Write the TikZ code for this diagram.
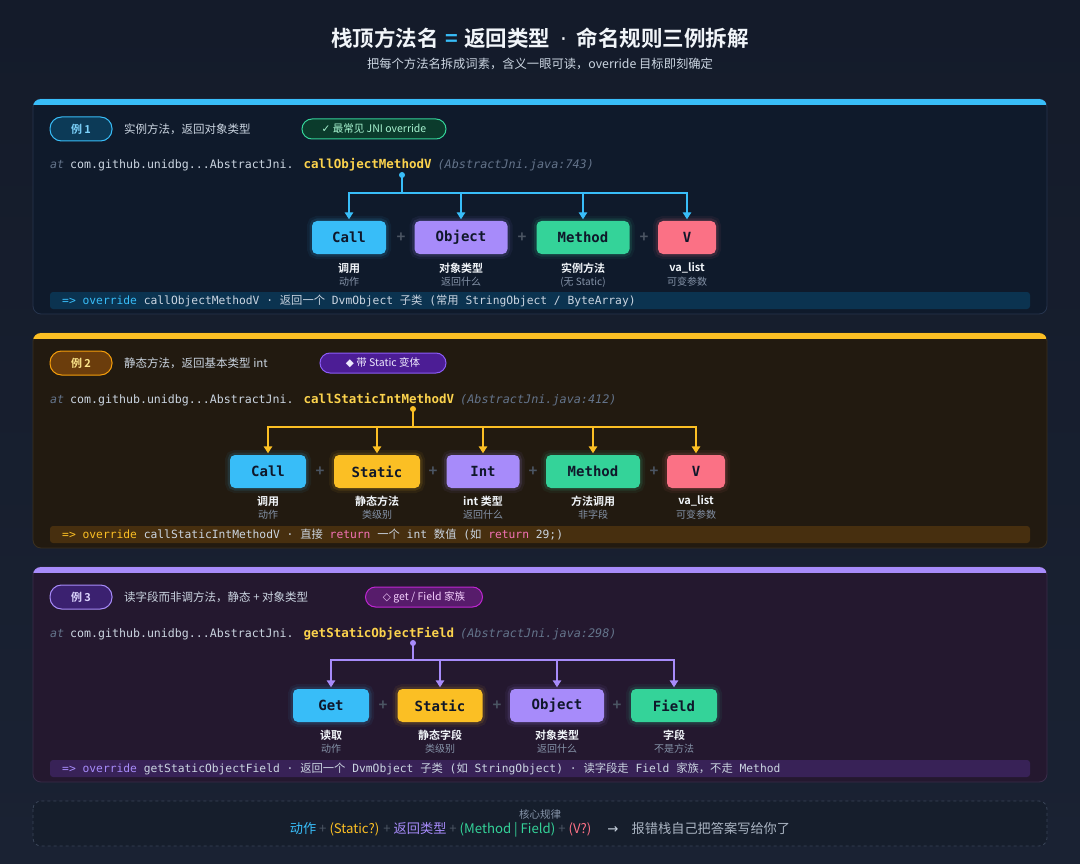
\documentclass[tikz,border=0pt]{standalone}
\usepackage{fontspec}
\setmainfont{Noto Sans CJK SC}[BoldFont={Noto Sans CJK SC Bold}]
\newfontfamily\cjk{Noto Sans CJK SC}[BoldFont={Noto Sans CJK SC Bold}]
\newfontfamily\symf{DejaVu Sans}
\setmonofont{DejaVu Sans Mono}
\usetikzlibrary{arrows.meta}
\newcommand\fsz[1]{\fontsize{#1}{#1}\selectfont}
\definecolor{bg}{HTML}{141B2A}
\definecolor{bgb}{HTML}{1A2233}
\definecolor{pA}{HTML}{0F1A2B}
\definecolor{pB}{HTML}{221A10}
\definecolor{pC}{HTML}{24182F}
\definecolor{brA}{HTML}{26344D}
\definecolor{brB}{HTML}{3A3020}
\definecolor{brC}{HTML}{3A2D4A}
\definecolor{cblue}{HTML}{38BDF8}
\definecolor{cyel}{HTML}{FBBF24}
\definecolor{cpur}{HTML}{A78BFA}
\definecolor{cgrn}{HTML}{34D399}
\definecolor{cred}{HTML}{FB7185}
\definecolor{cpink}{HTML}{F472B6}
\definecolor{boxtxt}{HTML}{0F172A}
\definecolor{txt}{HTML}{CBD5E1}
\definecolor{white2}{HTML}{F1F5F9}
\definecolor{mut}{HTML}{64748B}
\definecolor{sub}{HTML}{8593A8}
\definecolor{plus}{HTML}{4B5563}
\definecolor{mname}{HTML}{FCD34D}
\definecolor{ovA}{HTML}{0B3350}
\definecolor{ovB}{HTML}{472F0F}
\definecolor{ovC}{HTML}{382257}
\definecolor{foot}{HTML}{161E2C}
\definecolor{footbr}{HTML}{3A4558}
\definecolor{pillAf}{HTML}{0C3A57}
\definecolor{pillAt}{HTML}{7DD3FC}
\definecolor{pillBf}{HTML}{6B3D0C}
\definecolor{pillBd}{HTML}{F59E0B}
\definecolor{pillBt}{HTML}{FDE68A}
\definecolor{pillCf}{HTML}{3B2170}
\definecolor{pillCt}{HTML}{DDD6FE}
\definecolor{bdAf}{HTML}{0B3B2C}
\definecolor{bdAt}{HTML}{A7F3D0}
\definecolor{bdBf}{HTML}{4C1D95}
\definecolor{bdBd}{HTML}{8B5CF6}
\definecolor{bdBt}{HTML}{EDE9FE}
\definecolor{bdCf}{HTML}{571C6B}
\definecolor{bdCd}{HTML}{C026D3}
\definecolor{bdCt}{HTML}{F5D0FE}
\newcommand\stk[2]{\textcolor{mut}{\itshape\fsz{11.6}at} {\fsz{11.6}com.github.unidbg...AbstractJni.}\hspace{4pt} \textcolor{mname}{\bfseries\fsz{12.5}#1} \textcolor{mut}{\itshape\fsz{11.8}(AbstractJni.java:#2)}}
\tikzset{
  part/.style={rounded corners=5pt, minimum height=33pt, inner sep=0pt,
    font=\ttfamily\bfseries\fsz{14}, text=boxtxt, fill=#1,
    preaction={fill=none, draw=#1, line width=10pt, draw opacity=0.06},
    preaction={fill=none, draw=#1, line width=5pt, draw opacity=0.12}},
  conn/.style={draw=#1, line width=1.4pt, shorten >=1.5pt,
    -{Triangle[length=7pt,width=8.5pt]}},
  lab/.style={font=\bfseries\fsz{11}, text=white2, inner sep=0pt},
  sublab/.style={font=\fsz{10}, text=sub, inner sep=0pt},
  plussign/.style={font=\bfseries\fsz{15}, text=plus, inner sep=0pt},
  pill/.style={rounded corners=11.5pt, minimum width=62pt, minimum height=24pt,
    inner sep=0pt, line width=1pt, font=\bfseries\fsz{11}},
  badge/.style={rounded corners=10pt, minimum height=20pt, inner sep=0pt,
    line width=1pt, font=\fsz{10.5}},
  head/.style={anchor=west, inner sep=0pt, font=\fsz{11.5}, text=txt},
  stack/.style={anchor=base west, inner sep=0pt, font=\ttfamily, text=txt},
  ovtext/.style={anchor=west, inner sep=0pt, font=\ttfamily\fsz{11.3}, text=txt},
}
\begin{document}
\begin{tikzpicture}[x=1pt,y=-1pt]
% background
\shade[top color=bg, bottom color=bgb] (0,0) rectangle (1080,864);
\useasboundingbox (0,0) rectangle (1080,864);

% title
\node[inner sep=0pt, font=\bfseries\fsz{21.5}, text=white2] (title) at (540,38)
  {栈顶方法名\hspace{0.3em}\textcolor{cblue}{=}\hspace{0.3em}返回类型\hspace{0.45em}{\symf\mdseries ·}\hspace{0.45em}命名规则三例拆解};
\node[inner sep=0pt, font=\fsz{12.3}, text=txt] (subtitle) at (540,64)
  {把每个方法名拆成词素，含义一眼可读，override 目标即刻确定};

% ================= panel 1 =================
\path[fill=pA, draw=brA, line width=0.8pt, rounded corners=8pt] (33,99) rectangle (1047,314);
\begin{scope}
  \clip[rounded corners=8pt] (33,99) rectangle (1047,314);
  \fill[cblue] (33,99) rectangle (1047,105);
\end{scope}
\node[pill, fill=pillAf, draw=cblue, text=pillAt] (p1) at (81,129) {例 1};
\node[head] (h1) at (124,129) {实例方法，返回对象类型};
\node[badge, minimum width=144pt, fill=bdAf, draw=cgrn, text=bdAt] (bd1) at (374,129)
  {{\symf ✓} 最常见 JNI override};
\node[stack] (s1) at (50,169) {\stk{callObjectMethodV}{743}};
\coordinate (d1) at (402,175);
\coordinate (u1) at (402,193);
\node[part=cblue, minimum width=74pt] (a1) at (349,237.5) {Call};
\node[part=cpur, minimum width=93pt] (a2) at (461,237.5) {Object};
\node[part=cgrn, minimum width=93pt] (a3) at (583,237.5) {Method};
\node[part=cred, minimum width=58pt] (a4) at (687,237.5) {V};
\foreach \n in {a1,a2,a3,a4} \draw[conn=cblue] (d1) -- (u1) -| (\n.north);
\fill[cblue] (d1) circle (3pt);
\node[plussign] (pl11) at (401,238) {+};
\node[plussign] (pl12) at (522,238) {+};
\node[plussign] (pl13) at (644,238) {+};
\node[lab] (l11) at (349,268) {调用};   \node[sublab] (m11) at (349,282) {动作};
\node[lab] (l12) at (461,268) {对象类型}; \node[sublab] (m12) at (461,282) {返回什么};
\node[lab] (l13) at (583,268) {实例方法}; \node[sublab] (m13) at (583,282) {(无 Static)};
\node[lab] (l14) at (687,268) {va\_list}; \node[sublab] (m14) at (687,282) {可变参数};
\path[fill=ovA, rounded corners=3pt] (50,292) rectangle (1030,309);
\node[ovtext] (o1) at (62,300.5)
  {\textcolor{cblue}{=> override} callObjectMethodV · {\cjk 返回一个} DvmObject {\cjk 子类} ({\cjk 常用} StringObject / ByteArray)};

% ================= panel 2 =================
\path[fill=pB, draw=brB, line width=0.8pt, rounded corners=8pt] (33,333) rectangle (1047,548);
\begin{scope}
  \clip[rounded corners=8pt] (33,333) rectangle (1047,548);
  \fill[cyel] (33,333) rectangle (1047,339);
\end{scope}
\node[pill, fill=pillBf, draw=pillBd, text=pillBt] (p2) at (81,363) {例 2};
\node[head] (h2) at (124,363) {静态方法，返回基本类型 int};
\node[badge, minimum width=126pt, fill=bdBf, draw=bdBd, text=bdBt] (bd2) at (383,363)
  {{\symf ◆} 带 Static 变体};
\node[stack] (s2) at (50,403) {\stk{callStaticIntMethodV}{412}};
\coordinate (d2) at (413,409);
\coordinate (u2) at (413,427);
\node[part=cblue, minimum width=76pt] (b1) at (268,471.5) {Call};
\node[part=cyel, minimum width=86pt] (b2) at (377,471.5) {Static};
\node[part=cpur, minimum width=73pt] (b3) at (483,471.5) {Int};
\node[part=cgrn, minimum width=94pt] (b4) at (593,471.5) {Method};
\node[part=cred, minimum width=58pt] (b5) at (696,471.5) {V};
\foreach \n in {b1,b2,b3,b4,b5} \draw[conn=cyel] (d2) -- (u2) -| (\n.north);
\fill[cyel] (d2) circle (3pt);
\node[plussign] (pl21) at (320,472) {+};
\node[plussign] (pl22) at (433,472) {+};
\node[plussign] (pl23) at (533,472) {+};
\node[plussign] (pl24) at (654,472) {+};
\node[lab] (l21) at (268,501) {调用};     \node[sublab] (m21) at (268,515) {动作};
\node[lab] (l22) at (377,501) {静态方法}; \node[sublab] (m22) at (377,515) {类级别};
\node[lab] (l23) at (483,501) {int 类型}; \node[sublab] (m23) at (483,515) {返回什么};
\node[lab] (l24) at (593,501) {方法调用}; \node[sublab] (m24) at (593,515) {非字段};
\node[lab] (l25) at (696,501) {va\_list};  \node[sublab] (m25) at (696,515) {可变参数};
\path[fill=ovB, rounded corners=3pt] (50,526) rectangle (1030,543);
\node[ovtext] (o2) at (62,534.5)
  {\textcolor{cyel}{=> override} callStaticIntMethodV · {\cjk 直接} \textcolor{cpink}{return} {\cjk 一个} int {\cjk 数值} ({\cjk 如} \textcolor{cpink}{return} 29;)};

% ================= panel 3 =================
\path[fill=pC, draw=brC, line width=0.8pt, rounded corners=8pt] (33,567) rectangle (1047,782);
\begin{scope}
  \clip[rounded corners=8pt] (33,567) rectangle (1047,782);
  \fill[cpur] (33,567) rectangle (1047,573);
\end{scope}
\node[pill, fill=pillCf, draw=cpur, text=pillCt] (p3) at (81,597) {例 3};
\node[head] (h3) at (124,597) {读字段而非调方法，静态 + 对象类型};
\node[badge, minimum width=117pt, fill=bdCf, draw=bdCd, text=bdCt] (bd3) at (424,597)
  {{\symf ◇} get / Field 家族};
\node[stack] (s3) at (50,637) {\stk{getStaticObjectField}{298}};
\coordinate (d3) at (413,643);
\coordinate (u3) at (413,660);
\node[part=cblue, minimum width=76pt] (c1) at (331,705.5) {Get};
\node[part=cyel, minimum width=85pt] (c2) at (440,705.5) {Static};
\node[part=cpur, minimum width=94pt] (c3) at (557,705.5) {Object};
\node[part=cgrn, minimum width=86pt] (c4) at (674,705.5) {Field};
\foreach \n in {c1,c2,c3,c4} \draw[conn=cpur] (d3) -- (u3) -| (\n.north);
\fill[cpur] (d3) circle (3pt);
\node[plussign] (pl31) at (383,706) {+};
\node[plussign] (pl32) at (497,706) {+};
\node[plussign] (pl33) at (617,706) {+};
\node[lab] (l31) at (331,735) {读取};     \node[sublab] (m31) at (331,749) {动作};
\node[lab] (l32) at (440,735) {静态字段}; \node[sublab] (m32) at (440,749) {类级别};
\node[lab] (l33) at (557,735) {对象类型}; \node[sublab] (m33) at (557,749) {返回什么};
\node[lab] (l34) at (674,735) {字段};     \node[sublab] (m34) at (674,749) {不是方法};
\path[fill=ovC, rounded corners=3pt] (50,760) rectangle (1030,777);
\node[ovtext] (o3) at (62,768.5)
  {\textcolor{cpur}{=> override} getStaticObjectField · {\cjk 返回一个} DvmObject {\cjk 子类} ({\cjk 如} StringObject) · {\cjk 读字段走} Field {\cjk 家族，不走} Method};

% ================= footer =================
\path[fill=foot, draw=footbr, dashed, line width=0.8pt, rounded corners=8pt] (33,801) rectangle (1047,846);
\node[inner sep=0pt, font=\fsz{10.5}, text=sub] (f1) at (540,814) {核心规律};
\node[inner sep=0pt, font=\fsz{13.2}, text=txt] (f2) at (540,830)
  {\textcolor{cblue}{动作} \textcolor{plus}{+} \textcolor{cyel}{(Static?)} \textcolor{plus}{+} \textcolor{cpur}{返回类型} \textcolor{plus}{+} \textcolor{cgrn}{(Method | Field)} \textcolor{plus}{+} \textcolor{cred}{(V?)} \quad{\symf →}\quad \textcolor{sub!70!white}{报错栈自己把答案写给你了}};
\end{tikzpicture}
\end{document}
